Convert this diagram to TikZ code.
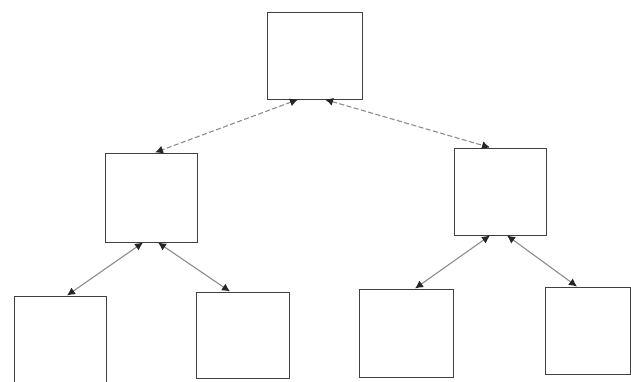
\documentclass[tikz,border=0pt]{standalone}
\usetikzlibrary{arrows.meta}
\begin{document}
\begin{tikzpicture}[x=1pt,y=-1pt,
  box/.style={draw=black!75,line width=1pt,fill=white,minimum width=#1,inner sep=0pt},
  link/.style={draw=black!45,line width=1.1pt,{Latex[length=8pt,width=8pt,color=black!85]}-{Latex[length=8pt,width=8pt,color=black!85]}},
  dlink/.style={link,dash pattern=on 5pt off 2.5pt}]
\useasboundingbox (0,0) rectangle (631,381);
\node[box=95pt,minimum height=87pt] (top) at (314.5,55.5) {};
\node[box=92pt,minimum height=89pt] (ml) at (151,197.5) {};
\node[box=92pt,minimum height=87pt] (mr) at (500,191.5) {};
\node[box=92pt,minimum height=88pt] (b1) at (60,340) {};
\node[box=93pt,minimum height=86pt] (b2) at (242.5,335) {};
\node[box=94pt,minimum height=88pt] (b3) at (406,333) {};
\node[box=85pt,minimum height=87pt] (b4) at (587.5,330.5) {};
\draw[dlink] ([xshift=-16.5pt]top.south) -- ([xshift=4pt]ml.north);
\draw[dlink] ([xshift=10.5pt]top.south) -- ([xshift=-10pt]mr.north);
\draw[link] ([xshift=-8pt]ml.south) -- ([xshift=7pt]b1.north);
\draw[link] ([xshift=7pt]ml.south) -- ([xshift=-12.5pt]b2.north);
\draw[link] ([xshift=-10pt]mr.south) -- ([xshift=9pt]b3.north);
\draw[link] ([xshift=7pt]mr.south) -- ([xshift=-10.5pt]b4.north);
\end{tikzpicture}
\end{document}
